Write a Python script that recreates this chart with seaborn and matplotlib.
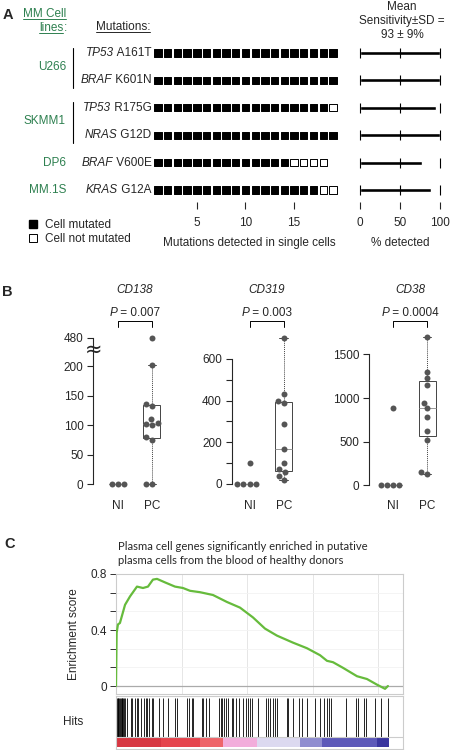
"""Three-panel figure: mutation detection, marker expression boxplots, GSEA plot."""

import matplotlib
matplotlib.use("Agg")
import matplotlib.pyplot as plt
import matplotlib.transforms as mtransforms
from matplotlib.lines import Line2D
from matplotlib.ticker import MultipleLocator, NullLocator
import numpy as np
import pandas as pd
import seaborn as sns

# ---- panel A data ----
genes = ["TP53", "BRAF", "TP53", "NRAS", "BRAF", "KRAS"]
mutations = ["A161T", "K601N", "R175G", "G12D", "V600E", "G12A"]
row_cell_line = ["U266", "U266", "SKMM1", "SKMM1", "DP6", "MM.1S"]
cells_mutated = [19, 19, 18, 19, 14, 17]
cells_not_mutated = [0, 0, 1, 0, 4, 2]
sensitivity_pct = [100, 100, 95, 100, 78, 89]
cell_ticks = [5, 10, 15]
pct_ticks = [0, 50, 100]

# ---- panel B data ----
markers = ["CD138", "CD319", "CD38"]
p_values = ["0.007", "0.003", "0.0004"]
cd138_ni = [0, 0, 0]
cd138_pc = [0, 0, 75, 80, 100, 101, 103, 110, 133, 135, 208, 480]
cd319_ni = [0, 0, 0, 0, 100]
cd319_pc = [20, 40, 55, 70, 100, 170, 290, 390, 400, 430, 700]
cd38_ni = [0, 0, 0, 0, 890]
cd38_pc = [130, 150, 520, 620, 780, 880, 940, 1150, 1230, 1300, 1700]

# ---- panel C data ----
es_rank = [0, 50, 150, 300, 690, 1070, 1600, 2060, 2440, 2820, 3130, 3740, 4500,
           5110, 5650, 6410, 7400, 8470, 9460, 10450, 11370, 12280, 13500, 14570,
           15570, 16100, 16560, 17320, 18390, 19150, 19910, 20530, 20750]
es_score = [0.0, 0.38, 0.44, 0.45, 0.58, 0.64, 0.71, 0.70, 0.71, 0.76, 0.765, 0.74,
            0.71, 0.70, 0.68, 0.67, 0.65, 0.60, 0.56, 0.49, 0.41, 0.36, 0.31, 0.27,
            0.22, 0.18, 0.17, 0.13, 0.07, 0.05, 0.01, -0.02, 0.0]
hit_ranks = [50, 120, 180, 240, 300, 380, 420, 480, 550, 610, 690, 810, 1120, 1250,
             1450, 1580, 1700, 1880, 2140, 2260, 2370, 2540, 2720, 2850, 3310, 3560,
             3990, 4500, 4630, 5390, 5600, 5770, 5900, 6540, 6660, 6870, 7120, 7880,
             7990, 8110, 8240, 8390, 8570, 8820, 8950, 9160, 9410, 9660, 9890, 10100,
             10220, 10350, 10860, 11420, 11570, 11750, 11950, 12130, 12260, 13020,
             13150, 13530, 13960, 14170, 14600, 15180, 15560, 15870, 16070, 16250,
             16400, 17520, 18310, 18490, 18920, 19070, 19790, 20220, 20780]
rank_color_edges = [0, 3400, 6400, 8150, 10750, 14050, 15700, 19900, 20850]
rank_colors = ["#d73742", "#e5444d", "#ee6469", "#f2addb", "#dcd9f0",
               "#8f8dd0", "#5d59b9", "#3a359f"]

GREEN = "#2e8050"
FS = 8.5
W, H = 452, 750

sns.set_style("ticks")
plt.rcParams["font.family"] = ["Liberation Sans", "DejaVu Sans"]
plt.rcParams["font.size"] = FS

fig = plt.figure(figsize=(W / 100, H / 100), dpi=100)
renderer = fig.canvas.get_renderer()


def fx(x):
    return x / W


def fy(y):
    return 1 - y / H


def box(left, top, right, bottom):
    return [left / W, 1 - bottom / H, (right - left) / W, (bottom - top) / H]


def mixed_text(parts, x, y, ha="left", **kw):
    """Place text pieces of different styles side by side (x, y in pixels)."""
    arts, widths = [], []
    for s, style in parts:
        t = fig.text(0, 0, s, fontstyle=style, va="center", **kw)
        arts.append(t)
        widths.append(t.get_window_extent(renderer).width)
    total = sum(widths)
    start = {"left": x, "right": x - total, "center": x - total / 2}[ha]
    for t, w in zip(arts, widths):
        t.set_position((fx(start), fy(y)))
        start += w
    return arts


# ================= panel A =================
rows = list(range(len(genes)))
recs = []
for r, (m, n) in enumerate(zip(cells_mutated, cells_not_mutated)):
    for k in range(m + n):
        recs.append({"row": r, "cell": k + 1,
                     "status": "mutated" if k < m else "not mutated"})
cells = pd.DataFrame(recs)

ax_sq = fig.add_axes(box(153, 40, 345, 201.7))
sns.scatterplot(data=cells, x="cell", y="row", hue="status",
                palette={"mutated": "black", "not mutated": "white"},
                marker="s", s=28, edgecolor="black", linewidth=0.7,
                legend=False, ax=ax_sq)
ax_sq.set_xlim(0.486, 20.24)
ax_sq.set_ylim(5.427, -0.474)
ax_sq.set_xticks(cell_ticks)
ax_sq.set_yticks([])
ax_sq.tick_params(axis="x", length=4.75, width=0.8, pad=6, labelsize=FS)
ax_sq.set_xlabel("Mutations detected in single cells", fontsize=FS, labelpad=6)
ax_sq.set_ylabel("")
for s in ax_sq.spines.values():
    s.set_visible(False)

for r, g, mut in zip(rows, genes, mutations):
    ypx = H - ax_sq.transData.transform((1, r))[1]
    mixed_text([(g, "italic"), (" " + mut, "normal")], 151.5, ypx, ha="right",
               fontsize=FS)

ax_sens = fig.add_axes(box(355, 40, 446, 201.7))
sens = pd.DataFrame({"row": rows, "pct": sensitivity_pct})
sns.barplot(data=sens, x="pct", y="row", orient="h", color="black",
            saturation=1, width=0.15, ax=ax_sens)
grid_pts = pd.DataFrame([(t, r) for r in rows for t in pct_ticks], columns=["pct", "row"])
ax_sens.scatter(grid_pts["pct"], grid_pts["row"], marker="|", s=45,
                color="black", linewidths=0.8)
ax_sens.set_xlim(-6.25, 107.5)
ax_sens.set_ylim(5.427, -0.474)
ax_sens.set_xticks(pct_ticks)
ax_sens.set_yticks([])
ax_sens.tick_params(axis="x", length=4.75, width=0.8, pad=6, labelsize=FS)
ax_sens.set_xlabel("% detected", fontsize=FS, labelpad=6)
ax_sens.set_ylabel("")
for s in ax_sens.spines.values():
    s.set_visible(False)

fig.text(fx(3), fy(15), "A", fontsize=10.5, fontweight="bold", va="center")
t_mm = fig.text(fx(66), fy(14), "MM Cell", color=GREEN, ha="right", va="center")
t_lines = fig.text(fx(63.5), fy(28), "lines", color=GREEN, ha="right", va="center")
fig.text(fx(63.5), fy(28), ":", color=GREEN, ha="left", va="center")
t_mut = fig.text(fx(96), fy(27), "Mutations:", ha="left", va="center")
fig.text(fx(402), fy(21), "Mean\nSensitivity\u00b1SD =\n93 \u00b1 9%",
         ha="center", va="center", multialignment="center", linespacing=1.2)

blend = mtransforms.blended_transform_factory(fig.transFigure, ax_sq.transData)
for line in dict.fromkeys(row_cell_line):
    idx = [i for i, c in enumerate(row_cell_line) if c == line]
    ax_sq.text(fx(66), np.mean(idx), line, color=GREEN, ha="right", va="center",
               transform=blend, fontsize=FS)
    if len(idx) > 1:
        ax_sq.plot([fx(73), fx(73)], [min(idx) - 0.2, max(idx) + 0.27],
                   transform=blend, color="black", lw=0.8, clip_on=False)

handles = [
    Line2D([], [], marker="s", ls="none", markerfacecolor="black",
           markeredgecolor="black", markersize=5.5),
    Line2D([], [], marker="s", ls="none", markerfacecolor="white",
           markeredgecolor="black", markeredgewidth=0.7, markersize=5.5),
]
fig.legend(handles, ["Cell mutated", "Cell not mutated"], loc="upper left",
           bbox_to_anchor=(fx(28), fy(219)), frameon=False, fontsize=FS,
           handlelength=0.8, handletextpad=0.6, labelspacing=0.15,
           borderaxespad=0, borderpad=0)

# ================= panel B =================
fig.text(fx(2), fy(292), "B", fontsize=10.5, fontweight="bold", va="center")

b_data = [(cd138_ni, cd138_pc), (cd319_ni, cd319_pc), (cd38_ni, cd38_pc)]
b_left = [93.3, 231.7, 369.3]
b_xmin = [-0.72, -0.53, -0.70]
b_ylim = [(-10, 546), (-29, 734), (-53, 1767)]
b_ticks = [[0, 50, 100, 150, 200, 480],
           [0, 100, 200, 300, 400, 500, 600],
           [0, 500, 1000, 1500]]
b_ticklabels = [["0", "50", "100", "150", "200", "480"],
                ["0", "", "200", "", "400", "", "600"],
                ["0", "500", "1000", "1500"]]


def brk_fwd(y):
    y = np.asarray(y, dtype=float)
    return np.where(y <= 200, y, 200 + (y - 200) * 48 / 280)


def brk_inv(y):
    y = np.asarray(y, dtype=float)
    return np.where(y <= 200, y, 200 + (y - 200) * 280 / 48)


for i, (name, pv, (ni, pc)) in enumerate(zip(markers, p_values, b_data)):
    left = b_left[i]
    ax = fig.add_axes(box(left, 331, left + (1.5 - b_xmin[i]) * 34, 490))
    if i == 0:
        ax.set_yscale("function", functions=(brk_fwd, brk_inv))
    df = pd.DataFrame({"group": ["NI"] * len(ni) + ["PC"] * len(pc),
                       "value": ni + pc})
    sns.boxplot(data=df, x="group", y="value", order=["NI", "PC"], width=0.5,
                color="white", linecolor="#444444", linewidth=0.7,
                showfliers=False,
                whiskerprops=dict(linestyle=(0, (1, 1))),
                medianprops=dict(color="#999999"),
                capwidths=0.25, ax=ax)
    sns.swarmplot(data=df, x="group", y="value", order=["NI", "PC"],
                  color="#555555", size=4.3, ax=ax, zorder=3)
    ax.set_xlim(b_xmin[i], 1.5)
    ax.set_ylim(*b_ylim[i])
    ax.set_yticks(b_ticks[i], labels=b_ticklabels[i])
    ax.yaxis.set_minor_locator(NullLocator())
    ax.spines["left"].set_bounds(b_ticks[i][0], b_ticks[i][-1])
    for s in ["top", "right", "bottom"]:
        ax.spines[s].set_visible(False)
    ax.spines["left"].set_linewidth(0.8)
    ax.tick_params(axis="y", length=4, width=0.8, pad=3, labelsize=FS)
    ax.tick_params(axis="x", length=0, pad=7, labelsize=FS)
    ax.set_xlabel("")
    ax.set_ylabel("")
    trans = mtransforms.blended_transform_factory(ax.transData, ax.transAxes)
    ax.plot([0, 0, 1, 1], [1.028, 1.063, 1.063, 1.028], transform=trans,
            color="black", lw=0.7, clip_on=False)
    xc = ax.transData.transform((0.5, 0))[0]
    mixed_text([("P", "italic"), (" = " + pv, "normal")], xc, 313, ha="center",
               fontsize=FS)
    ax.text(0.5, 1.258, name, transform=trans, ha="center", va="center",
            fontsize=FS, fontstyle="italic")
    if i == 0:
        ax.text(0, 357, "\u2248", transform=mtransforms.blended_transform_factory(
                ax.transAxes, ax.transData), ha="center", va="center",
                fontsize=15, family="DejaVu Sans")

# ================= panel C =================
fig.text(fx(4), fy(544), "C", fontsize=10.5, fontweight="bold", va="center")
fig.text(fx(118), fy(547), "Plasma cell genes significantly enriched in putative",
         family="Lato", fontsize=8.1, va="center")
fig.text(fx(118), fy(561), "plasma cells from the blood of healthy donors",
         family="Lato", fontsize=8.1, va="center")

ax_es = fig.add_axes(box(116, 574, 403, 694))
ax_es.set_xticks([5000, 10000, 15000, 20000], labels=[])
ax_es.yaxis.set_minor_locator(MultipleLocator(0.4 / 3))
ax_es.grid(axis="x", color="#e6e6e6", lw=0.7)
ax_es.grid(axis="y", which="both", color="#f2f2f2", lw=0.6)
ax_es.axhline(0, color="#aaaaaa", lw=0.9, zorder=1)
sns.lineplot(x=es_rank, y=es_score, color="#66bb3c", linewidth=1.6, ax=ax_es,
             zorder=3)
ax_es.set_xlim(0, 21900)
ax_es.set_ylim(-0.057, 0.8)
ax_es.set_yticks([0, 0.4, 0.8], labels=["0", "0.4", "0.8"])
ax_es.tick_params(axis="x", length=0)
ax_es.tick_params(axis="y", which="both", length=4.3, width=0.7, pad=2,
                  color="#333333", labelsize=FS)
for s in ax_es.spines.values():
    s.set_color("#cccccc")
    s.set_linewidth(0.8)
ax_es.set_ylabel("Enrichment score", fontsize=FS, labelpad=8)

ax_hits = fig.add_axes(box(116, 696, 403, 749))
ax_hits.vlines(hit_ranks, 0.22, 0.97, color="black", lw=0.6)
for lo, hi, c in zip(rank_color_edges[:-1], rank_color_edges[1:], rank_colors):
    ax_hits.axvspan(lo, hi, ymin=0.03, ymax=0.22, color=c, lw=0)
ax_hits.axhline(0.22, color="#cccccc", lw=0.8)
ax_hits.set_xlim(0, 21900)
ax_hits.set_ylim(0, 1)
ax_hits.set_xticks([])
ax_hits.set_yticks([])
for s in ax_hits.spines.values():
    s.set_color("#cccccc")
    s.set_linewidth(0.8)
fig.text(fx(73), fy(722), "Hits", ha="center", va="center", fontsize=FS)

# underline headers
for t in [t_mm, t_lines, t_mut]:
    bb = t.get_window_extent(renderer)
    yy = (bb.y0 + 1.5) / H
    fig.add_artist(Line2D([bb.x0 / W, bb.x1 / W], [yy, yy],
                          transform=fig.transFigure,
                          color=t.get_color(), lw=0.7))

fig.savefig("out.png", dpi=100)
